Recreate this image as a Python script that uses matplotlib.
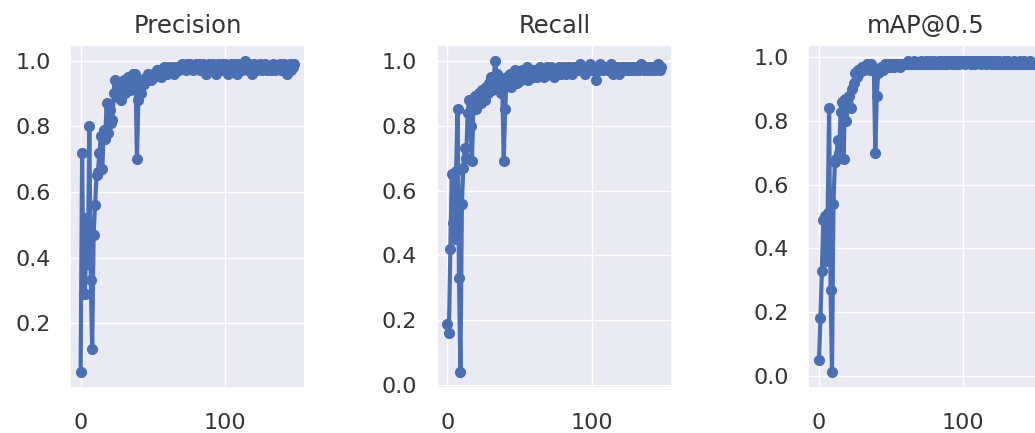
import matplotlib.pyplot as plt
import seaborn as sns

# epochs 0..148
epochs = list(range(149))

precision = [
    0.05, 0.72, 0.29, 0.29, 0.52, 0.38, 0.80, 0.33, 0.12, 0.47,
    0.56, 0.65, 0.66, 0.72, 0.77, 0.67, 0.79, 0.76, 0.87, 0.78,
    0.85, 0.81, 0.82, 0.90, 0.94, 0.92, 0.89, 0.93, 0.88, 0.91,
    0.94, 0.90, 0.92, 0.95, 0.91, 0.93, 0.96, 0.94, 0.96, 0.70,
    0.88, 0.92, 0.90, 0.94, 0.93, 0.95, 0.94, 0.96, 0.95, 0.94,
    0.96, 0.95, 0.96, 0.97, 0.96, 0.97, 0.95, 0.97, 0.98, 0.97,
    0.96, 0.98, 0.97, 0.97, 0.98, 0.96, 0.97, 0.98, 0.97, 0.98,
    0.99, 0.98, 0.98, 0.97, 0.99, 0.98, 0.99, 0.98, 0.97, 0.98,
    0.99, 0.98, 0.99, 0.97, 0.98, 0.99, 0.98, 0.96, 0.98, 0.99,
    0.98, 0.97, 0.99, 0.98, 0.96, 0.99, 0.98, 0.97, 0.99, 0.98,
    0.99, 0.98, 0.96, 0.98, 0.99, 0.97, 0.98, 0.99, 0.96, 0.98,
    0.99, 0.98, 0.97, 0.99, 1.00, 0.98, 0.97, 0.99, 0.98, 0.96,
    0.99, 0.98, 0.97, 0.98, 0.99, 0.98, 0.97, 0.98, 0.99, 0.97,
    0.98, 0.98, 0.97, 0.99, 0.98, 0.97, 0.98, 0.98, 0.99, 0.97,
    0.98, 0.99, 0.98, 0.96, 0.98, 0.99, 0.97, 0.98, 0.99,
]

recall = [
    0.19, 0.16, 0.42, 0.65, 0.50, 0.45, 0.66, 0.85, 0.33, 0.04,
    0.56, 0.67, 0.73, 0.70, 0.84, 0.88, 0.80, 0.69, 0.86, 0.89,
    0.85, 0.88, 0.90, 0.87, 0.91, 0.89, 0.88, 0.92, 0.90, 0.93,
    0.95, 0.91, 0.94, 1.00, 0.96, 0.93, 0.95, 0.90, 0.92, 0.69,
    0.85, 0.95, 0.93, 0.96, 0.92, 0.95, 0.94, 0.97, 0.93, 0.95,
    0.96, 0.94, 0.97, 0.95, 0.96, 0.98, 0.94, 0.96, 0.97, 0.95,
    0.97, 0.96, 0.95, 0.97, 0.98, 0.96, 0.97, 0.95, 0.96, 0.98,
    0.97, 0.96, 0.98, 0.97, 0.95, 0.97, 0.96, 0.98, 0.97, 0.96,
    0.98, 0.97, 0.96, 0.98, 0.97, 0.98, 0.96, 0.97, 0.98, 0.97,
    0.98, 0.97, 0.99, 0.97, 0.98, 0.96, 0.98, 0.97, 0.98, 0.99,
    0.97, 0.98, 0.97, 0.94, 0.98, 0.97, 0.99, 0.98, 0.97, 0.98,
    0.98, 0.97, 0.98, 0.99, 0.97, 0.96, 0.98, 0.97, 0.98, 0.96,
    0.97, 0.98, 0.97, 0.98, 0.97, 0.98, 0.97, 0.98, 0.97, 0.98,
    0.97, 0.98, 0.98, 0.97, 0.99, 0.98, 0.97, 0.98, 0.98, 0.97,
    0.98, 0.97, 0.98, 0.98, 0.97, 0.98, 0.99, 0.97, 0.98,
]

map50 = [
    0.05, 0.18, 0.33, 0.49, 0.50, 0.36, 0.51, 0.84, 0.27, 0.01,
    0.54, 0.67, 0.68, 0.74, 0.70, 0.83, 0.86, 0.68, 0.87, 0.80,
    0.85, 0.88, 0.84, 0.90, 0.92, 0.95, 0.94, 0.96, 0.95, 0.96,
    0.97, 0.96, 0.97, 0.98, 0.97, 0.96, 0.98, 0.97, 0.96, 0.70,
    0.88, 0.95, 0.96, 0.97, 0.96, 0.97, 0.98, 0.97, 0.98, 0.97,
    0.98, 0.98, 0.97, 0.98, 0.98, 0.98, 0.97, 0.98, 0.98, 0.98,
    0.98, 0.98, 0.99, 0.98, 0.98, 0.98, 0.99, 0.98, 0.98, 0.98,
    0.98, 0.99, 0.98, 0.98, 0.99, 0.98, 0.98, 0.99, 0.98, 0.98,
    0.99, 0.98, 0.98, 0.99, 0.98, 0.99, 0.98, 0.98, 0.99, 0.98,
    0.99, 0.99, 0.98, 0.99, 0.98, 0.99, 0.99, 0.98, 0.99, 0.99,
    0.99, 0.98, 0.99, 0.99, 0.99, 0.98, 0.99, 0.99, 0.98, 0.99,
    0.99, 0.99, 0.98, 0.99, 0.99, 0.99, 0.98, 0.99, 0.99, 0.98,
    0.99, 0.98, 0.99, 0.98, 0.98, 0.99, 0.98, 0.98, 0.99, 0.98,
    0.98, 0.99, 0.98, 0.98, 0.98, 0.99, 0.98, 0.98, 0.98, 0.99,
    0.98, 0.98, 0.99, 0.98, 0.98, 0.98, 0.99, 0.98, 0.98,
]

titles = ['Precision', 'Recall', 'mAP@0.5']
series = [precision, recall, map50]

sns.set_theme(style='darkgrid')
plt.rcParams['font.family'] = ['DejaVu Sans']

fig = plt.figure(figsize=(10.35, 4.33), dpi=100)
lefts = [0.0676, 0.422, 0.781]
for left, title, vals in zip(lefts, titles, series):
    ax = fig.add_axes([left, 0.104, 0.227, 0.792])
    ax.plot(epochs, vals, marker='o', color='#4a6fb3', linewidth=3, markersize=7)
    ax.set_title(title, fontsize=17.5, color='.2', pad=9)
    ax.set_xticks([0, 100])
    ax.tick_params(axis='x', labelsize=16, colors='.2', pad=12)
    ax.tick_params(axis='y', labelsize=16, colors='.2', pad=8)

plt.savefig('out.png', dpi=100)
